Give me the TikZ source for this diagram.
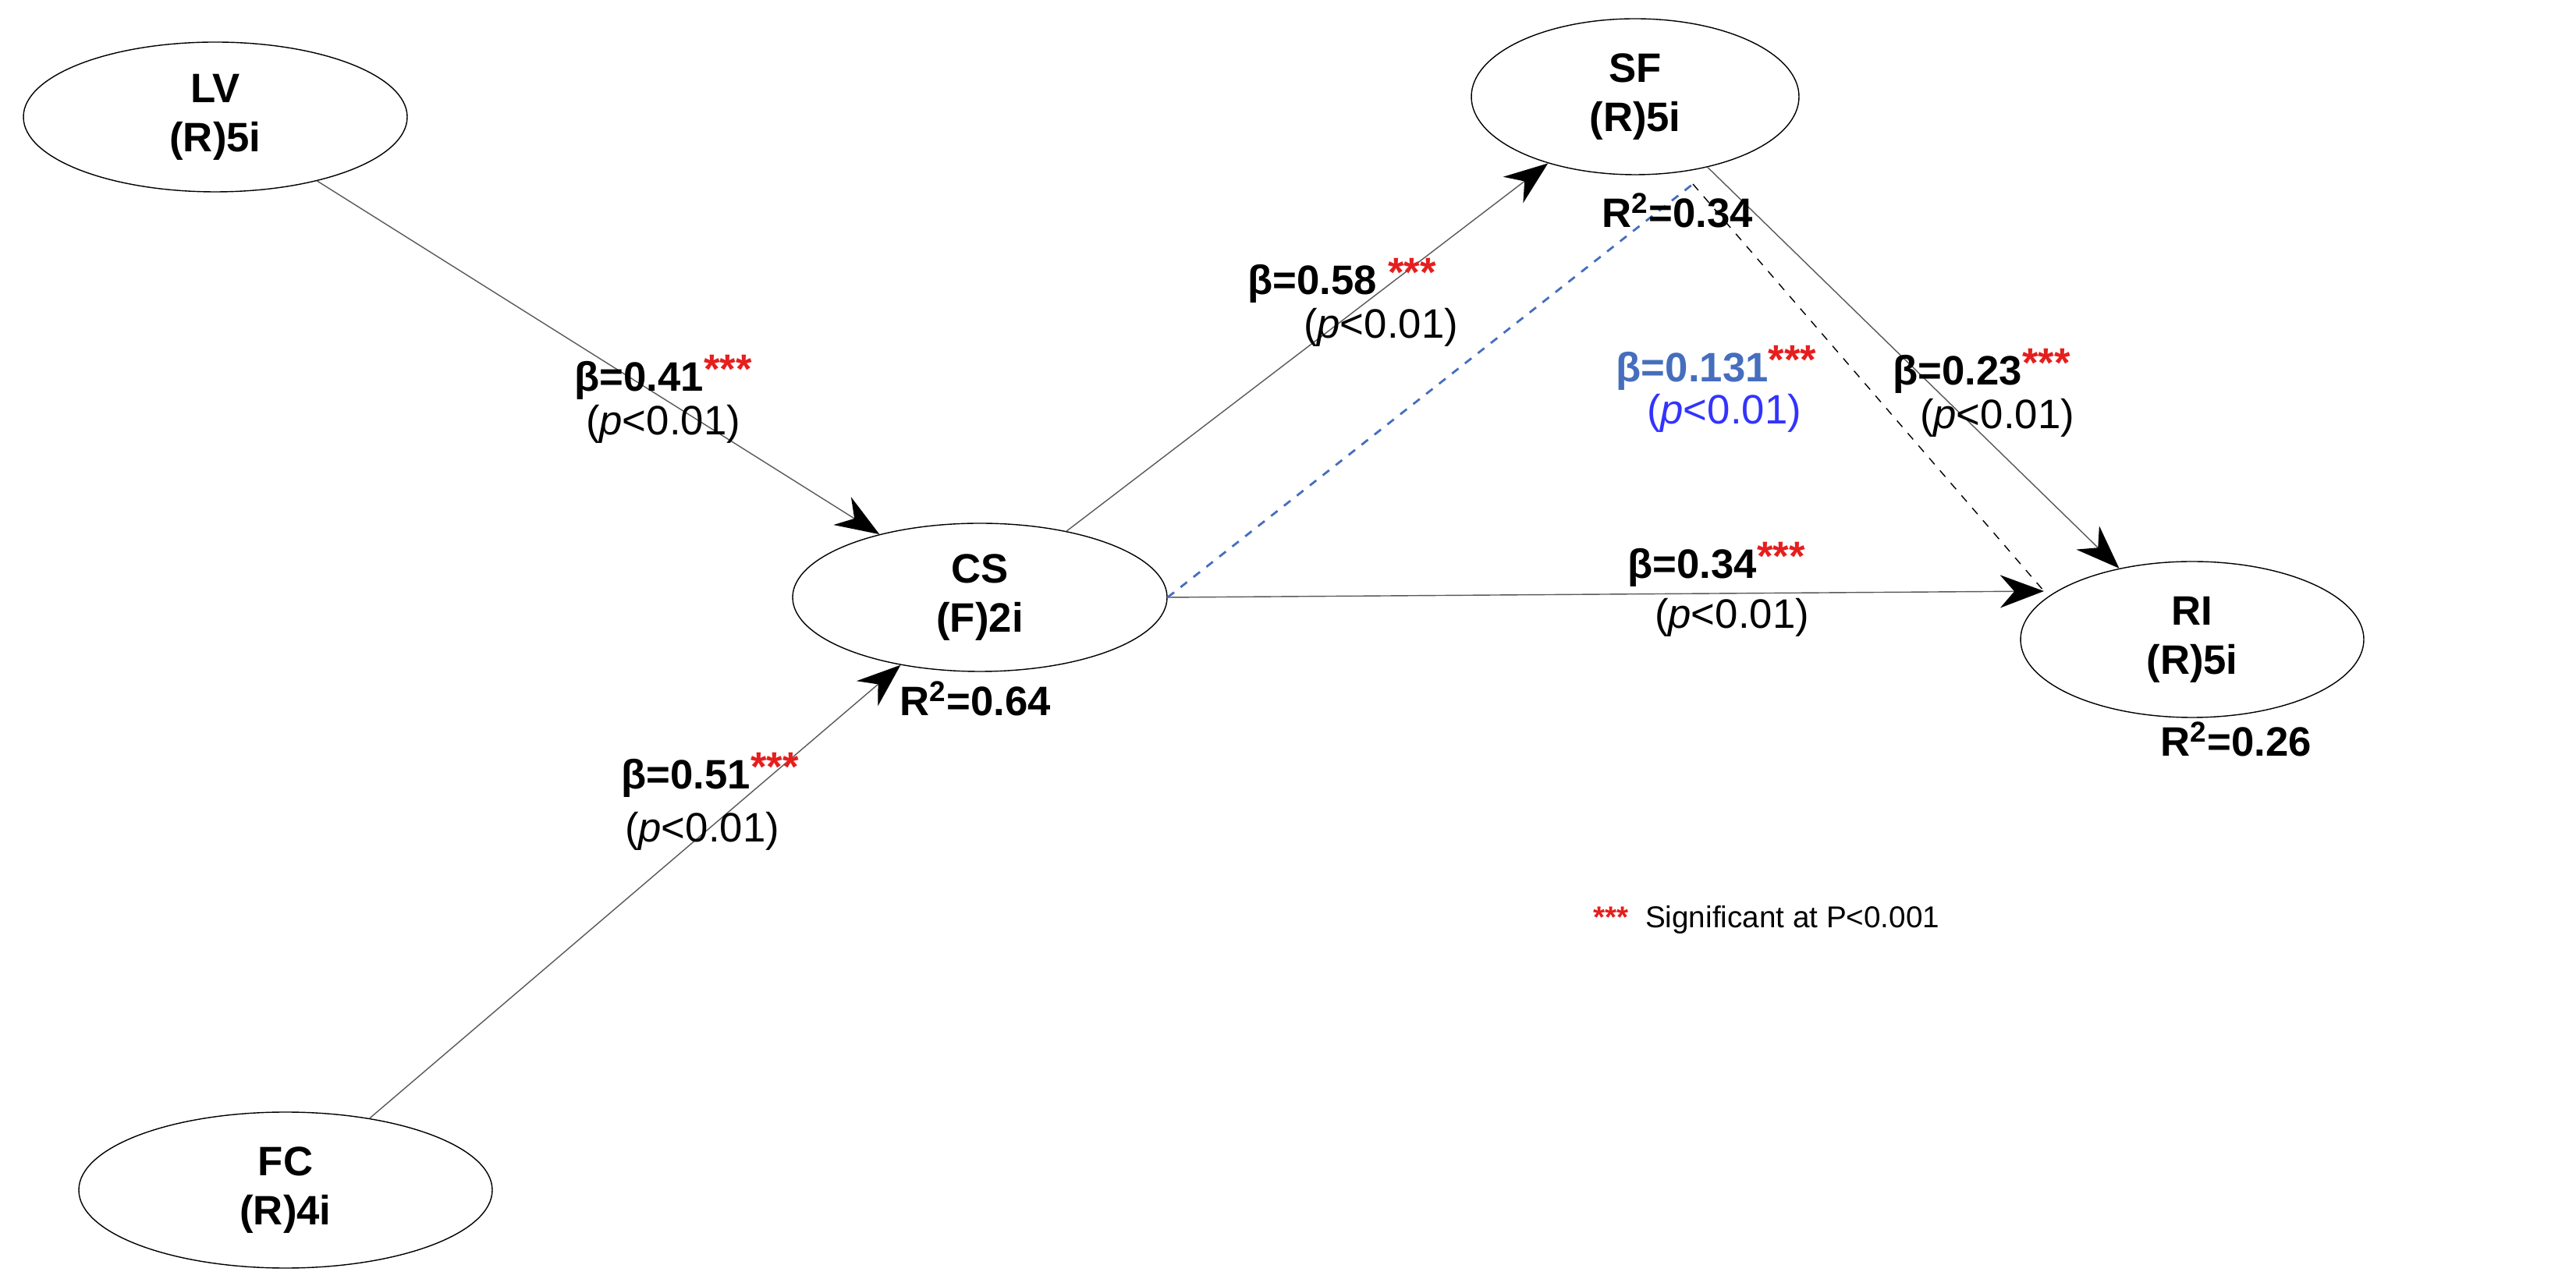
\documentclass[tikz,border=0pt]{standalone}
\usepackage{fontspec}
\setmainfont{Liberation Sans}
\usetikzlibrary{arrows.meta,shapes.geometric}
\definecolor{sigred}{RGB}{230,30,30}
\definecolor{medblue}{RGB}{70,110,190}
\tikzset{
  lv/.style={draw, ellipse, thin, align=center, font=\fontsize{15}{18}\selectfont\bfseries,
    inner sep=0pt},
  path/.style={draw, gray!70!black, thin, -{Stealth[length=16pt,width=12pt,black]}},
  b/.style={font=\fontsize{15}{18}\selectfont\bfseries, align=left},
  p/.style={font=\fontsize{15}{18}\selectfont},
}
\newcommand{\sig}{\textcolor{sigred}{\raisebox{3pt}{***}}}
\begin{document}
\begin{tikzpicture}
  \useasboundingbox (0,0) rectangle (33.02,16.48);
  %% constructs
  \node[lv, minimum width=4.92cm, minimum height=1.92cm] (LV) at (2.76,14.98) {LV\\(R)5i};
  \node[lv, minimum width=4.2cm, minimum height=2cm] (SF) at (20.96,15.24) {SF\\(R)5i};
  \node[lv, minimum width=4.8cm, minimum height=1.9cm] (CS) at (12.56,8.82) {CS\\(F)2i};
  \node[lv, minimum width=4.4cm, minimum height=2cm] (RI) at (28.1,8.28) {RI\\(R)5i};
  \node[lv, minimum width=5.3cm, minimum height=2cm] (FC) at (3.66,1.22) {FC\\(R)4i};
  \coordinate (SFd) at (21.7,14.12);
  \coordinate (RIw) at (26.2,8.9);
  %% paths
  \draw[path] (LV) -- (CS);
  \draw[path] (FC) -- (CS);
  \draw[path] (CS) -- (SF);
  \draw[path] (CS.east) -- (RIw);
  \draw[path] (SF) -- (RI);
  \draw[medblue, dashed, thick] (CS.east) -- (SFd);
  \draw[black, dashed] (SFd) -- (RIw);
  %% labels
  \node[b] (bLV) at (8.5,11.64) {β=0.41\sig};
  \node[p] at (8.5,11.04) {(\textit{p}<0.01)};
  \node[b] (bSF) at (17.2,12.88) {β=0.58 \sig};
  \node[p] at (17.7,12.28) {(\textit{p}<0.01)};
  \node[b, medblue] (bMed) at (22.0,11.76) {β=0.131\sig};
  \node[p, blue!80!white] at (22.1,11.18) {(\textit{p}<0.01)};
  \node[b] (bRI) at (25.4,11.72) {β=0.23\sig};
  \node[p] at (25.6,11.12) {(\textit{p}<0.01)};
  \node[b] (bCR) at (22.0,9.24) {β=0.34\sig};
  \node[p] at (22.2,8.56) {(\textit{p}<0.01)};
  \node[b] (bFC) at (9.1,6.54) {β=0.51\sig};
  \node[p] at (9.0,5.82) {(\textit{p}<0.01)};
  \node[b] (rSF) at (21.5,13.78) {R\textsuperscript{2}=0.34};
  \node[b] (rCS) at (12.5,7.52) {R\textsuperscript{2}=0.64};
  \node[b] (rRI) at (28.66,7.0) {R\textsuperscript{2}=0.26};
  \node[font=\fontsize{11}{13}\selectfont, anchor=west] (leg) at (20.3,4.68)
    {\textcolor{sigred}{\textbf{***}}\ \ Significant at P<0.001};
\end{tikzpicture}
\end{document}
